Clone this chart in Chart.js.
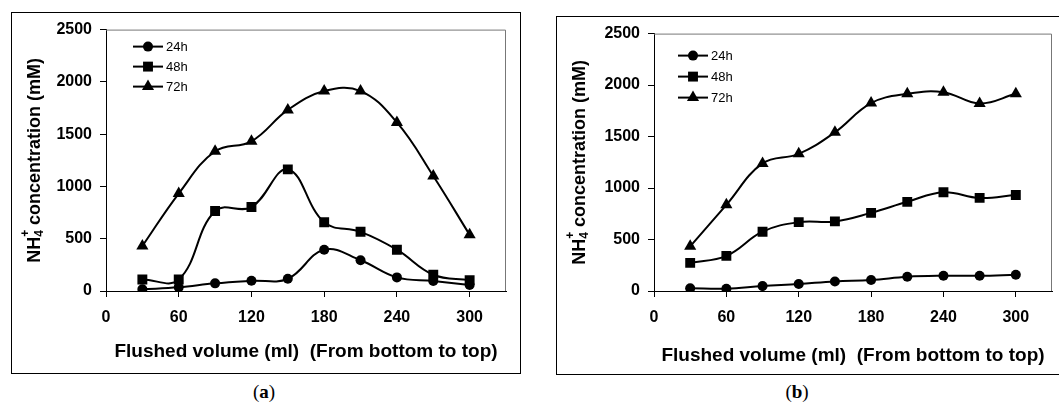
<!DOCTYPE html>
<html>
<head>
<meta charset="utf-8">
<script src="https://cdn.jsdelivr.net/npm/chart.js"></script>
<style>
  body { margin: 0; width: 1059px; height: 407px; overflow: hidden; background: #fff; position: relative; }
  .box { position: absolute; border: 1.5px solid #000; box-sizing: border-box; }
  canvas { position: absolute; }
  .cap { position: absolute; font-family: "Liberation Serif", serif; font-size: 19px; transform: translate(-50%, -50%); }
</style>
</head>
<body>
<div class="box" style="left:11px;top:12px;width:510px;height:362px"></div>
<div class="box" style="left:556px;top:16px;width:520px;height:359px"></div>
<canvas id="chartA" width="510" height="362" style="left:11px;top:12px"></canvas>
<canvas id="chartB" width="503" height="359" style="left:556px;top:16px"></canvas>
<div class="cap" style="left:264px;top:392px">(<b>a</b>)</div>
<div class="cap" style="left:797px;top:392px">(<b>b</b>)</div>
<script>
// flushed volume (ml)
let volumes = [30, 60, 90, 120, 150, 180, 210, 240, 270, 300];
let seriesNames = ['24h', '48h', '72h'];

// panel (a)
let a24 = [16, 35, 73, 98, 117, 395, 294, 130, 95, 57];
let a48 = [110, 110, 765, 803, 1163, 657, 566, 395, 155, 104];
let a72 = [430, 932, 1336, 1432, 1732, 1912, 1912, 1612, 1100, 537];

// panel (b)
let b24 = [26, 22, 48, 68, 93, 106, 138, 148, 148, 158];
let b48 = [273, 341, 576, 669, 676, 759, 866, 959, 904, 933];
let b72 = [434, 837, 1239, 1332, 1541, 1825, 1915, 1931, 1821, 1915];

let xTicks = [0, 60, 120, 180, 240, 300];
let yTicks = [0, 500, 1000, 1500, 2000, 2500];

let styles = [
  { pointStyle: 'circle', radius: 5 },
  { pointStyle: 'rect', radius: 7 },
  { pointStyle: 'triangle', radius: 7 }
];

const FONT = '"Liberation Sans", Arial, sans-serif';

function makeDatasets(lists) {
  return lists.map((vals, i) => ({
    label: seriesNames[i],
    data: vals.map((v, j) => ({ x: volumes[j], y: v })),
    borderColor: '#000',
    backgroundColor: '#000',
    borderWidth: 2,
    pointStyle: styles[i].pointStyle,
    pointRadius: styles[i].radius,
    pointBackgroundColor: '#000',
    pointBorderColor: '#000',
    pointBorderWidth: 0,
    tension: 0.4,
    fill: false
  }));
}

// titles, plot box and the little legend inside the plot
let decorations = {
  id: 'decorations',
  afterDraw(chart, args, opts) {
    let ctx = chart.ctx;
    let area = chart.chartArea;
    ctx.save();

    // grey frame top/right
    ctx.strokeStyle = '#777';
    ctx.lineWidth = 1;
    ctx.beginPath();
    ctx.moveTo(area.left, area.top + 0.5);
    ctx.lineTo(area.right - 0.5, area.top + 0.5);
    ctx.lineTo(area.right - 0.5, area.bottom);
    ctx.stroke();

    // legend
    ctx.font = '13px ' + FONT;
    ctx.textBaseline = 'middle';
    ctx.textAlign = 'left';
    chart.data.datasets.forEach((ds, i) => {
      let y = area.top + opts.legendTop + i * opts.legendGap;
      let x = area.left + opts.legendLeft;
      ctx.strokeStyle = '#000';
      ctx.lineWidth = 2;
      ctx.beginPath();
      ctx.moveTo(x, y);
      ctx.lineTo(x + 30, y);
      ctx.stroke();
      ctx.fillStyle = '#000';
      Chart.helpers.drawPoint(ctx, { pointStyle: ds.pointStyle, radius: ds.pointRadius, borderWidth: 0, rotation: 0 }, x + 15, y);
      ctx.fillStyle = '#000';
      ctx.fillText(ds.label, x + 33, y + 1);
    });

    // x title
    ctx.fillStyle = '#000';
    ctx.font = 'bold 19px ' + FONT;
    ctx.textAlign = 'center';
    ctx.textBaseline = 'middle';
    ctx.fillText('Flushed volume (ml)  (From bottom to top)', (area.left + area.right) / 2, opts.xTitleY);

    // y title with NH4+ formatting
    ctx.translate(opts.yTitleX, (area.top + area.bottom) / 2);
    ctx.rotate(-Math.PI / 2);
    ctx.textAlign = 'left';
    ctx.textBaseline = 'alphabetic';
    let big = 'bold 18px ' + FONT;
    let small = 'bold 12px ' + FONT;
    ctx.font = big;
    let w1 = ctx.measureText('NH').width;
    let w3 = ctx.measureText(' concentration (mM)').width;
    ctx.font = small;
    let w2 = ctx.measureText('4').width;
    let total = w1 + w2 + w3;
    let x0 = -total / 2;
    let base = 7;
    ctx.font = big;
    ctx.fillText('NH', x0, base);
    ctx.font = small;
    ctx.fillText('4', x0 + w1, base + 3);
    ctx.fillText('+', x0 + w1, base - 11);
    ctx.font = big;
    ctx.fillText(' concentration (mM)', x0 + w1 + w2, base);
    ctx.restore();
  }
};

function makeChart(id, lists, geo) {
  return new Chart(document.getElementById(id), {
    type: 'line',
    data: { datasets: makeDatasets(lists) },
    options: {
      responsive: false,
      animation: false,
      layout: { padding: { left: 0, right: geo.right, top: geo.top, bottom: 0 } },
      plugins: {
        legend: { display: false },
        tooltip: { enabled: false },
        decorations: geo.deco
      },
      scales: {
        x: {
          type: 'linear',
          min: 0,
          max: 330,
          afterFit: s => { s.height = geo.xHeight; },
          afterBuildTicks: s => { s.ticks = xTicks.map(v => ({ value: v })); },
          ticks: { color: '#000', font: { family: FONT, size: 16, weight: 'bold' }, padding: 11, maxRotation: 0, callback: v => String(v) },
          grid: { drawOnChartArea: false, drawTicks: true, tickLength: 6, color: '#000' },
          border: { color: '#000', width: 1 }
        },
        y: {
          min: 0,
          max: 2500,
          afterFit: s => { s.width = geo.yWidth; },
          afterBuildTicks: s => { s.ticks = yTicks.map(v => ({ value: v })); },
          ticks: { color: '#000', font: { family: FONT, size: 16, weight: 'bold' }, padding: 8, callback: v => String(v) },
          grid: { drawOnChartArea: false, drawTicks: true, tickLength: 6, color: '#000' },
          border: { color: '#000', width: 1 }
        }
      }
    },
    plugins: [decorations]
  });
}

makeChart('chartA', [a24, a48, a72], {
  right: 15, top: 16, xHeight: 83, yWidth: 95,
  deco: { legendLeft: 27, legendTop: 17, legendGap: 20, xTitleY: 340, yTitleX: 22 }
});

makeChart('chartB', [b24, b48, b72], {
  right: 3, top: 16, xHeight: 84, yWidth: 98,
  deco: { legendLeft: 24, legendTop: 22, legendGap: 21, xTitleY: 340, yTitleX: 22 }
});
</script>
</body>
</html>
